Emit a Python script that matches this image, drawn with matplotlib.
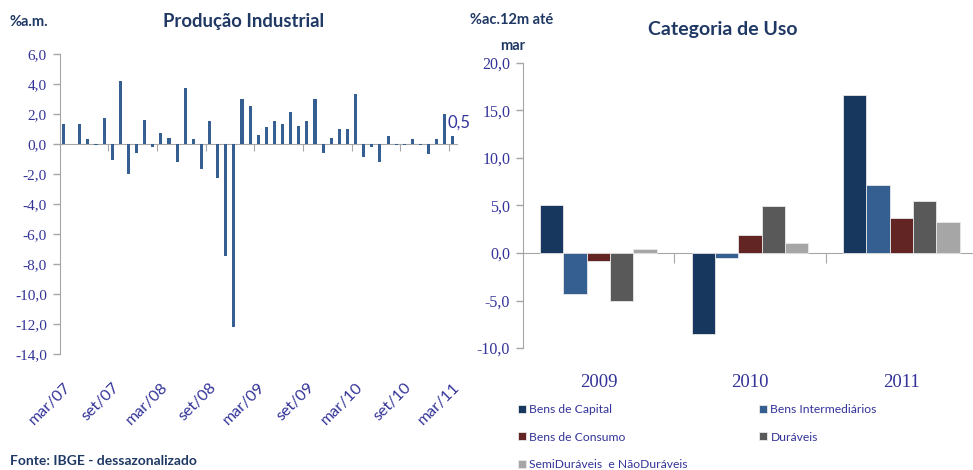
import matplotlib
matplotlib.use('Agg')
import matplotlib.pyplot as plt
from matplotlib.ticker import FuncFormatter
import numpy as np

# ---------------- data ----------------
months = ['mar/07', 'abr/07', 'mai/07', 'jun/07', 'jul/07', 'ago/07', 'set/07', 'out/07', 'nov/07', 'dez/07',
          'jan/08', 'fev/08', 'mar/08', 'abr/08', 'mai/08', 'jun/08', 'jul/08', 'ago/08', 'set/08', 'out/08',
          'nov/08', 'dez/08', 'jan/09', 'fev/09', 'mar/09', 'abr/09', 'mai/09', 'jun/09', 'jul/09', 'ago/09',
          'set/09', 'out/09', 'nov/09', 'dez/09', 'jan/10', 'fev/10', 'mar/10', 'abr/10', 'mai/10', 'jun/10',
          'jul/10', 'ago/10', 'set/10', 'out/10', 'nov/10', 'dez/10', 'jan/11', 'fev/11', 'mar/11']
prod_values = [1.3, 0.0, 1.3, 0.3, -0.1, 1.7, -1.1, 4.2, -2.0, -0.6,
               1.6, -0.2, 0.7, 0.4, -1.2, 3.7, 0.3, -1.7, 1.5, -2.3,
               -7.5, -12.2, 3.0, 2.5, 0.6, 1.1, 1.5, 1.3, 2.1, 1.2,
               1.5, 3.0, -0.6, 0.4, 1.0, 1.0, 3.3, -0.9, -0.2, -1.2,
               0.5, -0.1, -0.1, 0.3, -0.1, -0.7, 0.3, 2.0, 0.5]
month_tick_labels = ['mar/07', 'set/07', 'mar/08', 'set/08', 'mar/09', 'set/09', 'mar/10', 'set/10', 'mar/11']

years = ['2009', '2010', '2011']
cat_names = ['Bens de Capital', 'Bens Intermediários', 'Bens de Consumo', 'Duráveis',
             'SemiDuráveis  e NãoDuráveis']
bens_capital = [5.0, -8.5, 16.6]
bens_intermediarios = [-4.3, -0.5, 7.2]
bens_consumo = [-0.8, 1.9, 3.7]
duraveis = [-5.0, 4.9, 5.5]
semi_nao_duraveis = [0.4, 1.1, 3.3]

# ---------------- style ----------------
W, H = 973, 470
NAVY = '#1F3864'
LBL = '#333399'
GRAY = '#A6A6A6'
BAR = '#365F91'
cat_colors = ['#17375E', '#365F91', '#632523', '#595959', '#A6A6A6']
SERIF = 'Liberation Serif'
SANS = 'Lato'

fig = plt.figure(figsize=(W / 100, H / 100), dpi=100)


def rect(x0, y0, x1, y1):
    return [x0 / W, 1 - y1 / H, (x1 - x0) / W, (y1 - y0) / H]


comma = FuncFormatter(lambda v, p: f'{v:.1f}'.replace('.', ','))

# ---------------- left chart ----------------
ax1 = fig.add_axes(rect(59.5, 54, 457, 354))
x = np.arange(1, len(prod_values) + 1)
ax1.bar(x, prod_values, width=0.38, color=BAR, linewidth=0)
ax1.set_xlim(0.5, len(prod_values) + 0.5)
ax1.set_ylim(-14, 6)
ax1.set_yticks(np.arange(-14, 7, 2))
ax1.yaxis.set_major_formatter(comma)
ax1.tick_params(axis='y', length=5, width=1, color=GRAY, pad=4, labelsize=11, labelcolor=LBL)
for t in ax1.get_yticklabels():
    t.set_family(SERIF)
for s in ['top', 'right', 'bottom']:
    ax1.spines[s].set_visible(False)
ax1.spines['left'].set_color(GRAY)

label_pos = [months.index(m) + 1 for m in month_tick_labels]
ax1.set_xticks(label_pos)
ax1.set_xticklabels(month_tick_labels, rotation=45, ha='right', va='top', rotation_mode='anchor',
                    family=SANS, fontsize=11.5, color=LBL)
ax1.tick_params(axis='x', length=0, pad=19)

sec1 = ax1.secondary_xaxis(0, transform=ax1.transData)
sec1.set_xticks(np.arange(6.5, len(prod_values), 6))
sec1.tick_params(axis='x', length=5, color=GRAY, labelbottom=False, direction='out')
sec1.spines['bottom'].set_color(GRAY)

ax1.annotate(comma(prod_values[-1], 0), xy=(x[-1], prod_values[-1]), xytext=(-4, 4),
             textcoords='offset points', ha='left', va='bottom', color=LBL, family=SANS, fontsize=12)

fig.text(10 / W, 1 - 22 / H, '%a.m.', color=NAVY, family=SANS, fontsize=10.5, weight='bold', va='center')
fig.text(244 / W, 1 - 22 / H, 'Produção Industrial', color=NAVY, family=SANS, fontsize=13.3, weight='bold',
         ha='center', va='center')
fig.text(10 / W, 1 - 461 / H, 'Fonte: IBGE - dessazonalizado', color=NAVY, family=SANS, fontsize=10,
         weight='bold', va='center')

# ---------------- right chart ----------------
ax2 = fig.add_axes(rect(522.7, 63, 977, 348))
xc = np.arange(len(years))
bw = 0.154
series = [bens_capital, bens_intermediarios, bens_consumo, duraveis, semi_nao_duraveis]
bars = []
for i, (vals, col, name) in enumerate(zip(series, cat_colors, cat_names)):
    b = ax2.bar(xc + (i - 2) * bw, vals, width=bw, color=col, edgecolor='#E8E8E8', linewidth=0.6, label=name)
    bars.append(b)
ax2.set_xlim(-0.5, 2.5)
ax2.set_ylim(-10, 20)
ax2.set_yticks(np.arange(-10, 21, 5))
ax2.yaxis.set_major_formatter(comma)
ax2.tick_params(axis='y', length=5, width=1, color=GRAY, pad=4, labelsize=11.5, labelcolor=LBL)
for t in ax2.get_yticklabels():
    t.set_family(SERIF)
for s in ['top', 'right', 'bottom']:
    ax2.spines[s].set_visible(False)
ax2.spines['left'].set_color(GRAY)
ax2.set_xticks(xc)
ax2.set_xticklabels(years, family=SERIF, fontsize=13.5, color=LBL)
ax2.tick_params(axis='x', length=0, pad=19)

sec2 = ax2.secondary_xaxis(0, transform=ax2.transData)
sec2.set_xticks(xc[:-1] + 0.5)
sec2.tick_params(axis='x', length=7, color=GRAY, labelbottom=False, direction='out')
sec2.spines['bottom'].set_color(GRAY)

fig.text(512 / W, 1 - 20 / H, '%ac.12m até', color=NAVY, family=SANS, fontsize=10.5, weight='bold',
         ha='center', va='center')
fig.text(513 / W, 1 - 46 / H, 'mar', color=NAVY, family=SANS, fontsize=10.5, weight='bold',
         ha='center', va='center')
fig.text(723 / W, 1 - 30 / H, 'Categoria de Uso', color=NAVY, family=SANS, fontsize=14, weight='bold',
         ha='center', va='center')

leg_kw = dict(frameon=False, labelcolor=LBL, handlelength=0.65, handleheight=0.65,
              handletextpad=0.3, labelspacing=1.38, borderpad=0, borderaxespad=0,
              prop={'family': SANS, 'size': 8.7})
leg1 = fig.legend([bars[0], bars[2], bars[4]], [cat_names[0], cat_names[2], cat_names[4]],
                  loc='upper left', bbox_to_anchor=(518 / W, 1 - 404 / H), **leg_kw)
leg2 = fig.legend([bars[1], bars[3]], [cat_names[1], cat_names[3]],
                  loc='upper left', bbox_to_anchor=(759 / W, 1 - 404 / H), **leg_kw)

fig.savefig('out.png', dpi=100)
